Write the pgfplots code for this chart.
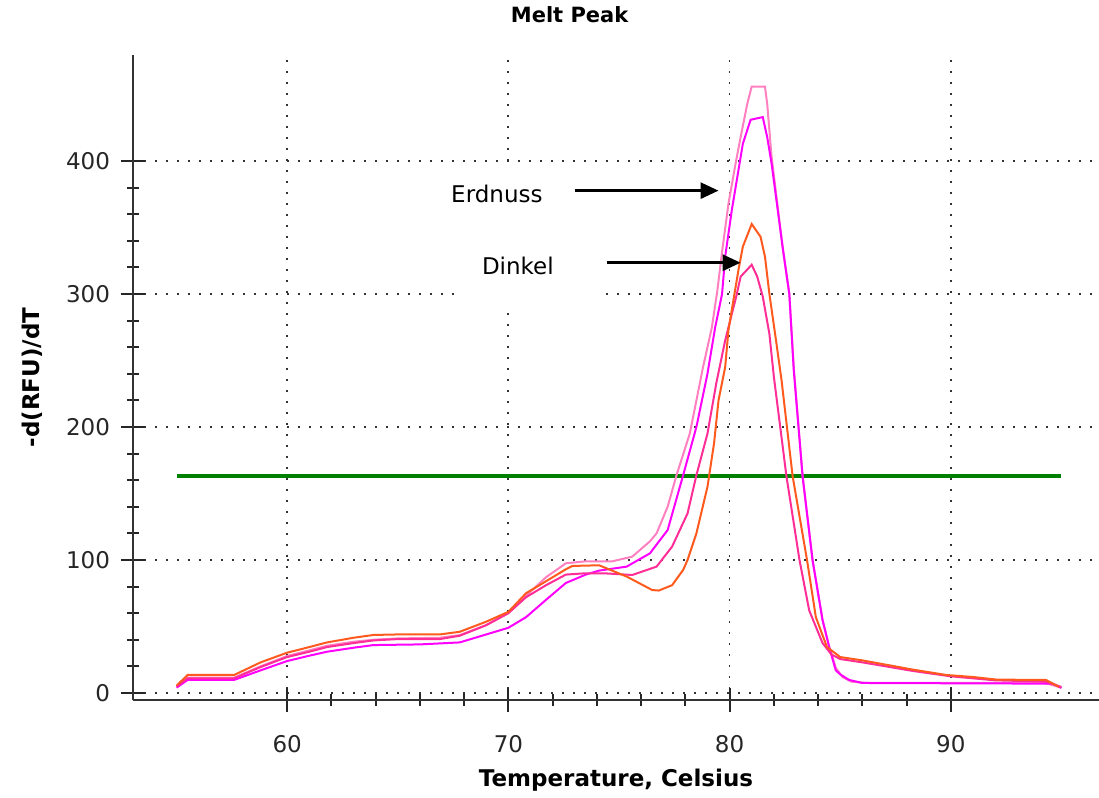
\documentclass[border=0pt]{standalone}
\usepackage{fontspec}
\setmainfont{DejaVu Sans}
\usepackage{pgfplots}
\pgfplotsset{compat=1.18}
\usetikzlibrary{arrows.meta,calc}

\definecolor{lpink}{RGB}{255,128,192}
\definecolor{mag}{RGB}{255,0,255}
\definecolor{hpink}{RGB}{255,45,150}
\definecolor{orng}{RGB}{255,90,30}
\definecolor{thr}{RGB}{0,128,0}

\begin{document}
\begin{tikzpicture}
\useasboundingbox (-66.5pt,-49pt) rectangle (483pt,350pt);
\begin{axis}[
  at={(0,0)}, anchor=south west,
  scale only axis, width=483pt, height=322.5pt,
  xmin=53.03, xmax=96.7, ymin=-5.3, ymax=479.7,
  axis lines=left,
  axis line style={-, line width=1.2pt, black!80},
  xtick={60,70,80,90}, ytick={0,100,200,300,400},
  minor x tick num=4, minor y tick num=4,
  tick align=center,
  major tick length=12pt, minor tick length=6pt,
  every tick/.style={black!85, line width=1pt},
  grid=major,
  major grid style={black!80, line width=0.9pt, dash pattern=on 0.9pt off 4.6pt},
  /pgf/number format/assume math mode=true,
  tick label style={font=\fontsize{11.5}{13}\selectfont, black!85},
  yticklabel style={xshift=-2pt},
  xticklabel style={yshift=-8pt},
  title={Melt Peak},
  title style={font=\bfseries\fontsize{10.5}{12}\selectfont, at={(axis description cs:0.452,1)}, anchor=center, yshift=14pt},
  xlabel={Temperature, Celsius},
  xlabel style={font=\bfseries\fontsize{11.5}{13}\selectfont, at={(axis description cs:0.5,0)}, anchor=center, yshift=-40pt},
  ylabel={-d(RFU)/dT},
  ylabel style={font=\bfseries\fontsize{11.5}{13}\selectfont, at={($(axis description cs:0,0.5)+(-50.5pt,0)$)}, anchor=center},
  clip=false,
]
% white boxes behind the annotations
\fill[white] (axis cs:66.2,349) rectangle (axis cs:73.1,395.5);
\fill[white] (axis cs:67.7,288) rectangle (axis cs:74.4,349);

\addplot[thr, line width=2pt] coordinates {(55,163.5) (95,163.5)};

\addplot[lpink, line width=1pt] coordinates {
(55.0,5) (55.5,11.5) (57.6,11.5) (58.8,20) (60,27.8) (61,32) (61.8,35.5) (63,38.5) (63.9,40) (65,41) (66.9,41.5) (67.8,43.5) (69,51) (70,60) (70.8,73) (71.7,87) (72.6,97.5) (73.5,99) (74.7,99) (75.6,102.5) (76.4,114) (76.7,120) (77.2,140) (77.6,163.7) (78.2,195) (78.8,245) (79.2,275) (79.45,303) (79.67,333) (79.95,368) (80.27,398) (80.5,418) (80.8,443) (81.0,456) (81.6,456) (81.7,443) (81.9,403) (82.4,335) (82.7,300) (82.9,245) (83.3,163) (83.75,100) (84.2,55) (84.5,35) (84.8,19) (85.1,12) (85.5,8.5) (86.2,7.5) (92,7.5) (94.2,7.8) (95,4)
};
\addplot[mag, line width=1pt] coordinates {
(55.0,4) (55.5,9.8) (57.6,9.8) (58.8,17) (60,24) (61,28) (61.8,31) (63,34) (63.9,36) (66,36.5) (67.8,38) (69,44) (70,49) (70.8,57) (71.7,70) (72.6,82.7) (73.5,89) (74.1,92) (75.35,95) (76.4,105) (77.2,122.5) (77.9,163.7) (78.5,200) (79.0,240) (79.35,275) (79.66,300) (79.8,328) (80.1,363) (80.4,393) (80.6,413) (80.95,431) (81.5,433) (81.7,418) (81.9,398) (82.4,335) (82.7,300) (82.9,243) (83.3,163) (83.75,100) (84.2,55) (84.5,34.6) (84.8,17) (85.0,14) (85.4,9.8) (86,7.5) (94.6,7) (95,3.8)
};
\addplot[hpink, line width=1pt] coordinates {
(55.0,5) (55.5,11) (57.6,11) (58.8,19.5) (60,27) (61,31) (61.8,34.5) (63,37.5) (63.9,39.5) (65,40.5) (66.9,40.5) (67.8,43) (69,51) (70,60) (70.8,72) (71.7,81) (72.6,89) (73.5,90) (74.3,90) (75.6,88.7) (76.7,95) (77.4,110) (78.1,135) (78.5,163.7) (79.0,195) (79.4,233) (79.8,265) (80.1,285) (80.3,298) (80.5,313) (81.0,322) (81.25,313) (81.5,298) (81.8,270) (82.0,238) (82.57,163) (83.16,100) (83.6,62) (84.2,37.6) (84.6,29) (85,25.5) (86,23) (88.3,16.5) (90,12.5) (92,9.5) (94.3,8.5) (95,4.5)
};
\addplot[orng, line width=1pt] coordinates {
(55.0,5.5) (55.5,13.5) (57.6,13.5) (58.8,23) (60,30.3) (61,34.5) (61.8,38) (63,41.5) (63.9,43.6) (65,44) (66.9,44) (67.8,46) (69,53.6) (70,61) (70.8,75) (71.7,84) (72.6,93) (72.9,95.5) (74.1,96) (75.35,87.5) (76.5,77.4) (76.8,77) (77.4,81) (77.9,92.5) (78.1,100) (78.5,120) (79.0,155) (79.3,188) (79.5,220) (79.8,245) (79.95,273) (80.2,298) (80.4,318) (80.6,335.6) (81.0,352.6) (81.4,343) (81.6,328) (81.8,300) (82.1,265) (82.35,235) (82.85,163) (83.5,100) (83.9,57) (84.4,34.6) (85.0,27) (86.0,24.5) (88.3,17.5) (89.8,13.5) (91,12) (92.1,10) (94.3,9.8) (94.9,4.5)
};

\node[font=\fontsize{11.5}{13}\selectfont] at (axis cs:69.48,375.6) {Erdnuss};
\node[font=\fontsize{11.5}{13}\selectfont] at (axis cs:70.43,321.3) {Dinkel};
\draw[line width=1.4pt, -{Triangle[length=9pt,width=8pt]}] (axis cs:73.03,377.7) -- (axis cs:79.5,377.7);
\draw[line width=1.4pt, -{Triangle[length=9pt,width=8pt]}] (axis cs:74.48,323.5) -- (axis cs:80.5,323.5);
\end{axis}
\end{tikzpicture}
\end{document}
